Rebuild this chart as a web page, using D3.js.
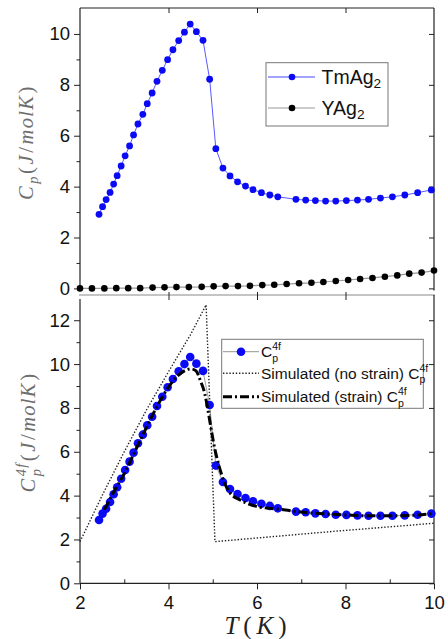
<!DOCTYPE html>
<html>
<head>
<meta charset="utf-8">
<script src="https://cdn.jsdelivr.net/npm/d3@7/dist/d3.min.js"></script>
<style>
  body { margin: 0; background: #fff; }
  svg { display: block; }
  text { white-space: pre; }
</style>
</head>
<body>
<svg id="chart" width="448" height="639"></svg>
<script>
// measured temperatures (K) for TmAg2, shared by both panels
const tempTm = [2.43, 2.51, 2.59, 2.68, 2.76, 2.84, 2.93, 3.02, 3.12, 3.21,
    3.31, 3.42, 3.52, 3.63, 3.74, 3.86, 3.98, 4.10, 4.23, 4.36,
    4.49, 4.63, 4.78, 4.93, 5.07, 5.23, 5.39, 5.56, 5.74, 5.91,
    6.10, 6.29, 6.47, 6.88, 7.10, 7.32, 7.55, 7.78, 8.02, 8.27,
    8.52, 8.79, 9.06, 9.34, 9.63, 9.94];
const cpTmAg2 = [2.91, 3.21, 3.49, 3.77, 4.10, 4.43, 4.81, 5.21, 5.60, 6.03,
    6.46, 6.84, 7.26, 7.68, 8.14, 8.57, 8.99, 9.38, 9.74, 10.07,
    10.39, 10.09, 9.75, 8.22, 5.49, 4.73, 4.42, 4.19, 4.02, 3.88,
    3.76, 3.67, 3.60, 3.50, 3.47, 3.45, 3.43, 3.43, 3.45, 3.47,
    3.50, 3.55, 3.60, 3.67, 3.76, 3.87];
const cp4f = [2.89, 3.18, 3.40, 3.71, 4.06, 4.38, 4.77, 5.17, 5.55, 5.96,
    6.39, 6.78, 7.21, 7.60, 8.09, 8.51, 8.94, 9.32, 9.67, 10.00,
    10.32, 10.02, 9.69, 8.13, 5.37, 4.62, 4.30, 4.07, 3.89, 3.74,
    3.63, 3.53, 3.42, 3.27, 3.24, 3.19, 3.16, 3.13, 3.12, 3.10,
    3.08, 3.08, 3.08, 3.10, 3.13, 3.18];

// YAg2 reference compound
const tempY = [2.00, 2.27, 2.55, 2.82, 3.09, 3.36, 3.64, 3.91, 4.18, 4.46,
    4.75, 5.02, 5.29, 5.57, 5.84, 6.12, 6.39, 6.67, 6.95, 7.23,
    7.50, 7.78, 8.06, 8.33, 8.61, 8.89, 9.17, 9.44, 9.72, 10.00];
const cpYAg2 = [0.00, 0.00, 0.00, 0.01, 0.01, 0.01, 0.03, 0.04, 0.05, 0.05,
    0.06, 0.08, 0.09, 0.09, 0.10, 0.13, 0.14, 0.17, 0.20, 0.22,
    0.25, 0.29, 0.33, 0.37, 0.41, 0.46, 0.51, 0.58, 0.62, 0.70];

// simulated curves
const tempNoStrain = [2.0, 2.5, 3.0, 3.5, 4.0, 4.5, 4.85, 5.05, 7.5, 10.0];
const simNoStrain = [1.9, 4.0, 6.0, 7.9, 9.65, 11.35, 12.7, 1.9, 2.33, 2.74];
const tempStrain = [2.55, 2.8, 3.0, 3.25, 3.5, 3.75, 4.0, 4.2, 4.35, 4.5,
    4.62, 4.72, 4.82, 4.9, 4.98, 5.05, 5.13, 5.24, 5.39, 5.62,
    6.0, 6.5, 7.0, 7.5, 8.0, 8.5, 9.0, 9.5, 10.0];
const simStrain = [3.35, 4.3, 5.0, 6.05, 7.1, 8.1, 8.95, 9.45, 9.68, 9.78,
    9.7, 9.25, 8.65, 7.8, 6.85, 6.1, 5.45, 4.72, 4.12, 3.8,
    3.5, 3.38, 3.25, 3.17, 3.12, 3.08, 3.08, 3.1, 3.18];

const xMajor = [2, 4, 6, 8, 10];
const xMinor = [3, 5, 7, 9];
const yTopMajor = [0, 2, 4, 6, 8, 10];
const yTopMinor = [1, 3, 5, 7, 9];
const yBotMajor = [0, 2, 4, 6, 8, 10, 12];
const yBotMinor = [1, 3, 5, 7, 9, 11];

const BLUE = "#0a0af5";
const SANS = "'Liberation Sans', Arial, sans-serif";
const SERIF = "'Liberation Serif', 'Times New Roman', serif";

const svg = d3.select("#chart");

const x = d3.scaleLinear().domain([2, 10]).range([80, 434]);
const yTop = d3.scaleLinear().domain([-0.26, 11.02]).range([295, 8]);
const yBot = d3.scaleLinear().domain([0, 13.06]).range([583.3, 297]);

function axisGroup(axis, tx, ty) {
    const g = svg.append("g")
        .attr("transform", `translate(${tx},${ty})`)
        .call(axis);
    g.select(".domain").remove();
    g.selectAll("line").attr("stroke", "#222");
    g.selectAll("text")
        .attr("fill", "#111")
        .style("font-family", SANS)
        .style("font-size", "18.5px");
    return g;
}

// frames
function vline(xp, y1, y2, color) {
    svg.append("line").attr("x1", xp).attr("x2", xp).attr("y1", y1).attr("y2", y2)
        .attr("stroke", color || "#222").attr("stroke-width", 1.2);
}
function hline(yp, x1, x2, color) {
    svg.append("line").attr("x1", x1).attr("x2", x2).attr("y1", yp).attr("y2", yp)
        .attr("stroke", color || "#222").attr("stroke-width", 1.2);
}

vline(x(2), yTop.range()[1], yTop(0) + 2);
vline(x(10), yTop.range()[1], yTop(0) + 2);
hline(yTop.range()[1], x(2), x(10));
hline(yTop.range()[0], x(2) - 1, x(10) + 1, "#8a8a8a");
vline(x(2), yBot.range()[1] + 2, yBot(0));
vline(x(10), yTop.range()[0], yBot(0));
hline(yBot(0), x(2), x(10));

// top panel axes
axisGroup(d3.axisLeft(yTop).tickValues(yTopMajor).tickSize(6).tickPadding(4).tickFormat(d3.format("d")), x(2), 0);
axisGroup(d3.axisLeft(yTop).tickValues(yTopMinor).tickSize(3.5).tickFormat(""), x(2), 0);
axisGroup(d3.axisLeft(yTop).tickValues(yTopMajor).tickSize(5).tickFormat(""), x(10), 0);
axisGroup(d3.axisBottom(x).tickValues([4, 6, 8]).tickSize(5).tickFormat(""), 0, yTop.range()[1]);
axisGroup(d3.axisTop(x).tickValues([4, 6, 8]).tickSize(3).tickFormat(""), 0, yTop.range()[0]);

// bottom panel axes
axisGroup(d3.axisLeft(yBot).tickValues(yBotMajor).tickSize(6).tickPadding(4).tickFormat(d3.format("d")), x(2), 0);
axisGroup(d3.axisLeft(yBot).tickValues(yBotMinor).tickSize(3.5).tickFormat(""), x(2), 0);
axisGroup(d3.axisLeft(yBot).tickValues(yBotMajor).tickSize(5).tickFormat(""), x(10), 0);
axisGroup(d3.axisBottom(x).tickValues([4, 6, 8]).tickSize(5).tickFormat(""), 0, yTop.range()[0]);
axisGroup(d3.axisBottom(x).tickValues(xMajor).tickSize(6).tickPadding(7).tickFormat(d3.format("d")), 0, yBot(0));
axisGroup(d3.axisTop(x).tickValues(xMinor).tickSize(4).tickFormat(""), 0, yBot(0));

// top panel data
const topTm = tempTm.map((t, i) => [t, cpTmAg2[i]]);
const topY = tempY.map((t, i) => [t, cpYAg2[i]]);
const lineTop = d3.line().x(d => x(d[0])).y(d => yTop(d[1]));

svg.append("path").datum(topY).attr("d", lineTop)
    .attr("fill", "none").attr("stroke", "#999").attr("stroke-width", 1.2);
svg.append("g").selectAll("circle").data(topY).join("circle")
    .attr("cx", d => x(d[0])).attr("cy", d => yTop(d[1])).attr("r", 3.3).attr("fill", "#000");

svg.append("path").datum(topTm).attr("d", lineTop)
    .attr("fill", "none").attr("stroke", "#4646ff").attr("stroke-width", 0.9);
svg.append("g").selectAll("circle").data(topTm).join("circle")
    .attr("cx", d => x(d[0])).attr("cy", d => yTop(d[1])).attr("r", 3.4).attr("fill", BLUE);

// bottom panel data
const lineBot = d3.line().x(d => x(d[0])).y(d => yBot(d[1]));
const noStrain = tempNoStrain.map((t, i) => [t, simNoStrain[i]]);
const strain = tempStrain.map((t, i) => [t, simStrain[i]]);
const bot4f = tempTm.map((t, i) => [t, cp4f[i]]);

svg.append("path").datum(noStrain).attr("d", lineBot)
    .attr("fill", "none").attr("stroke", "#222").attr("stroke-width", 1.4)
    .attr("stroke-dasharray", "1.4,1.8");
svg.append("path").datum(bot4f).attr("d", lineBot)
    .attr("fill", "none").attr("stroke", "#888").attr("stroke-width", 0.8);
svg.append("g").selectAll("circle").data(bot4f).join("circle")
    .attr("cx", d => x(d[0])).attr("cy", d => yBot(d[1])).attr("r", 4.3).attr("fill", BLUE);
svg.append("path").datum(strain).attr("d", d3.line().curve(d3.curveMonotoneX).x(d => x(d[0])).y(d => yBot(d[1])))
    .attr("fill", "none").attr("stroke", "#000").attr("stroke-width", 3)
    .attr("stroke-dasharray", "9,3,2,3");

// text with sub/superscripts, laid out piece by piece
function richText(g, parts, base) {
    let cx = 0;
    parts.forEach(p => {
        const group = p.stack || [p];
        let w = 0;
        group.forEach(q => {
            const t = g.append("text")
                .attr("x", cx)
                .attr("y", (q.dy || 0) * base.size)
                .attr("fill", base.color)
                .style("font-family", base.family)
                .style("font-size", (q.scale || 1) * base.size + "px")
                .style("font-style", q.it ? "italic" : "normal")
                .style("letter-spacing", (base.spacing || 0) + "px")
                .text(q.t);
            w = Math.max(w, t.node().getComputedTextLength());
        });
        cx += w + (base.spacing || 0);
    });
    return cx;
}

// top legend
const legTop = svg.append("g");
legTop.append("rect").attr("x", 266).attr("y", 62.7).attr("width", 122).attr("height", 63.3)
    .attr("fill", "#fff").attr("stroke", "#777").attr("stroke-width", 1);
const topEntries = [
    { name: "TmAg", sub: "2", line: "#4646ff", fill: BLUE, y: 77 },
    { name: "YAg", sub: "2", line: "#999", fill: "#000", y: 108 }
];
topEntries.forEach(e => {
    legTop.append("line").attr("x1", 268).attr("x2", 315).attr("y1", e.y).attr("y2", e.y)
        .attr("stroke", e.line).attr("stroke-width", 1.2);
    legTop.append("circle").attr("cx", 292).attr("cy", e.y).attr("r", 3.3).attr("fill", e.fill);
    const g = legTop.append("g").attr("transform", `translate(321.5,${e.y + 6.5})`);
    richText(g, [{ t: e.name }, { t: e.sub, dy: 0.25, scale: 0.7 }],
        { family: SANS, size: 19.5, color: "#111" });
});

// bottom legend
const legBot = svg.append("g");
legBot.append("rect").attr("x", 221.7).attr("y", 339.3).attr("width", 201.6).attr("height", 69)
    .attr("fill", "#fff").attr("stroke", "#777").attr("stroke-width", 1);
const cpPieces = [{ t: "C" }, { stack: [{ t: "4f", dy: -0.45, scale: 0.68 }, { t: "p", dy: 0.28, scale: 0.68 }] }];
const botEntries = [
    { label: "", y: 351.7, kind: "data" },
    { label: "Simulated (no strain) ", y: 373.3, kind: "dot" },
    { label: "Simulated (strain) ", y: 396.7, kind: "dashdot" }
];
botEntries.forEach(e => {
    const ln = legBot.append("line").attr("x1", 223).attr("x2", 259).attr("y1", e.y).attr("y2", e.y);
    if (e.kind === "data") {
        ln.attr("stroke", "#888").attr("stroke-width", 0.9);
        legBot.append("circle").attr("cx", 241).attr("cy", e.y).attr("r", 4.3).attr("fill", BLUE);
    } else if (e.kind === "dot") {
        ln.attr("stroke", "#222").attr("stroke-width", 1.4).attr("stroke-dasharray", "1.4,1.8");
    } else {
        ln.attr("stroke", "#000").attr("stroke-width", 3).attr("stroke-dasharray", "9,3,2,3");
    }
    const g = legBot.append("g").attr("transform", `translate(261,${e.y + 5.5})`);
    const parts = e.label ? [{ t: e.label }].concat(cpPieces) : cpPieces;
    richText(g, parts, { family: SANS, size: 15.5, color: "#111" });
});

// y axis titles (rotated)
function yTitle(cx, cy, parts) {
    const g = svg.append("g");
    const inner = g.append("g");
    const w = richText(inner, parts, { family: SERIF, size: 20.5, color: "#6e6e6e", spacing: 1.3 });
    g.attr("transform", `translate(${cx},${cy}) rotate(-90) translate(${-w / 2},0)`);
}
yTitle(33, 142, [
    { t: "C", it: true }, { t: "p", it: true, dy: 0.25, scale: 0.7 },
    { t: "(" }, { t: "J", it: true }, { t: "/" }, { t: "molK", it: true }, { t: ")" }
]);
yTitle(35, 432, [
    { t: "C", it: true },
    { stack: [{ t: "4f", it: true, dy: -0.42, scale: 0.7 }, { t: "p", it: true, dy: 0.28, scale: 0.7 }] },
    { t: "(" }, { t: "J", it: true }, { t: "/" }, { t: "molK", it: true }, { t: ")" }
]);

// x axis title
const xt = svg.append("g");
const xw = richText(xt, [{ t: "T", it: true }, { t: "(" }, { t: "K", it: true }, { t: ")" }],
    { family: SERIF, size: 25, color: "#222", spacing: 2.5 });
xt.attr("transform", `translate(${258 - xw / 2},634)`);
</script>
</body>
</html>
